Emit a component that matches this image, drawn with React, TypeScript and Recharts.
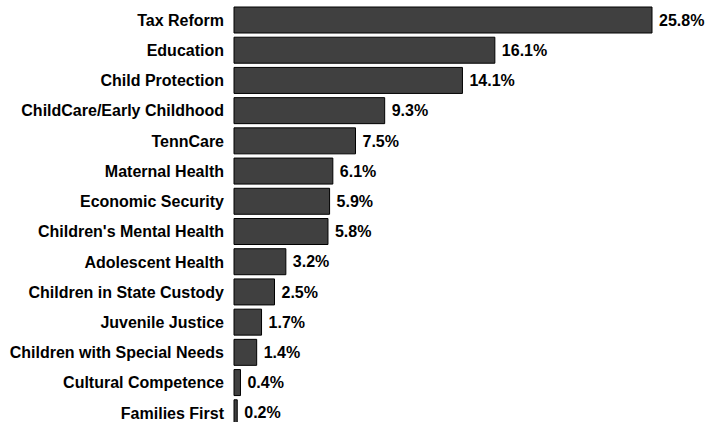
import React from 'react';
import { BarChart, Bar, XAxis, YAxis, LabelList } from 'recharts';

const categories = [
  'Tax Reform',
  'Education',
  'Child Protection',
  'ChildCare/Early Childhood',
  'TennCare',
  'Maternal Health',
  'Economic Security',
  "Children's Mental Health",
  'Adolescent Health',
  'Children in State Custody',
  'Juvenile Justice',
  'Children with Special Needs',
  'Cultural Competence',
  'Families First',
];

const shares = [25.8, 16.1, 14.1, 9.3, 7.5, 6.1, 5.9, 5.8, 3.2, 2.5, 1.7, 1.4, 0.4, 0.2];

const data = categories.map((name, i) => ({ name, value: shares[i] }));

const font = '"Liberation Sans", Arial, sans-serif';

const App: React.FC = () => {
  return (
    <div style={{ position: 'absolute', left: 0, top: 0, width: 718, height: 422, overflow: 'hidden' }}>
      <BarChart
        width={718}
        height={433}
        data={data}
        layout="vertical"
        margin={{ top: 5, right: 66, left: 0, bottom: 5 }}
      >
        <XAxis type="number" domain={[0, 25.8]} hide />
        <YAxis
          type="category"
          dataKey="name"
          width={234}
          axisLine={false}
          tickLine={false}
          tickSize={0}
          tickMargin={10}
          interval={0}
          tick={{ fontSize: 16, fontWeight: 'bold', fill: '#000', fontFamily: font }}
        />
        <Bar dataKey="value" fill="#404040" stroke="#000" strokeWidth={1} barSize={26} isAnimationActive={false}>
          <LabelList
            dataKey="value"
            position="right"
            offset={7}
            formatter={(v: number) => `${v}%`}
            style={{ fontSize: 16, fontWeight: 'bold', fill: '#000', fontFamily: font }}
          />
        </Bar>
      </BarChart>
    </div>
  );
};

export default App;
